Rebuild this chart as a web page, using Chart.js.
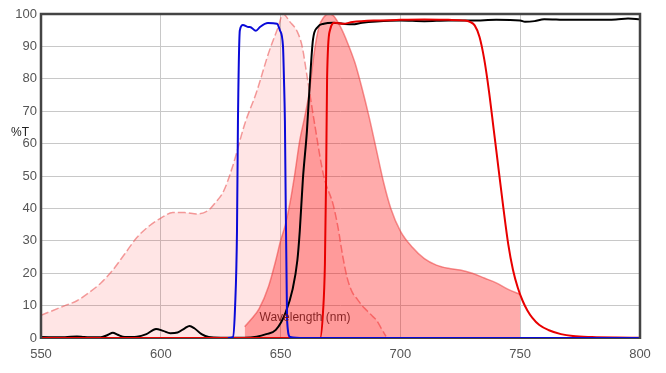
<!DOCTYPE html>
<html><head><meta charset="utf-8">
<style>html,body{margin:0;padding:0;background:#fff}#wrap{width:666px;height:373px}</style>
<script src="https://cdn.jsdelivr.net/npm/chart.js@4/dist/chart.umd.min.js"></script>
</head><body><div id="wrap"><canvas id="c" width="666" height="373"></canvas></div>
<script>
const xTicks = [550, 600, 650, 700, 750, 800];
const yTicks = [0,10,20,30,40,50,60,70,80,90,100];

const excitationWl = [550,555,560,565,570,575,580,585,590,595,600,605,610,615,620,623,626,630,635,640,645,649,651,654,657,659,661,664,668,672,674,676,678,680,682,684,686,688,690,692,694];
const excitationT  = [7,8.5,10,11.5,14,17,21,26,31,34.5,37,38.7,38.7,38.3,39.5,42,45,53,66,76,88,96,100,97.5,94.5,90,81,67,50,41,34,25,18,14,12,10,8.5,7,5.5,3,0.5];

const emissionWl = [635,638,641,645,648,650,652,654,656,658,660,662,664,666,668,670,672,675,678,681,684,687,690,693,696,700,705,710,715,720,725,730,735,740,745,750];
const emissionT  = [3.5,6,9,16,24,30,35,42,51,61,68,76,88,96,99,100,99.5,96,91,85,77,68,58,48,40,33,28,24.5,22.5,21.5,21,20,18.5,17,15,13.5];

const exFilterWl = [628,630.1,631,631.8,632.2,633,634.3,636.4,637.2,639.7,641.4,644.7,648.5,649.7,651,651.4,651.8,652.7,654,660,700,750,800];
const exFilterT  = [0,0.3,9.6,33,67,95,96.6,96,96,94.8,96,97.2,97,95,90,80,67,5.5,0.3,0,0,0,0];

const dichroicWl = [550,560,565,568,575,578,580,582,585,590,594,598,601,604,607,610,612,614,617,620,625,635,640,644,648,652,655,657,658,659.3,661,662.3,663.5,665.5,668,672,676,680,684,690,700,710,720,730,740,750,752,756,760,770,780,790,795,800];
const dichroicT  = [0.3,0.2,0.5,0.3,0.2,1.0,1.6,1.0,0.3,0.4,1.2,2.8,2.2,1.5,1.7,3.0,3.7,3.0,1.2,0.3,0.1,0.1,0.4,1.2,2.5,7.7,15,24,33,49,64,80,92,96,97,97.3,97,96.8,97.3,97.7,98,97.8,98,98,98.2,98,97.6,97.8,98.4,98.2,98.2,98.3,98.6,98.4];

const emFilterWl = [550,600,650,666.5,667.7,668.5,669,669.4,670.6,672.7,676,680,690,700,710,720,727,729,731,733,735,737,739,741,743,745,747,749,751,753,755,758,762,767,772,780,790,800];
const emFilterT  = [0,0,0,0,8,23,50,80,95,97.3,97,97.5,98,98.2,98.3,98.2,98,97.6,96.5,93,86,76,64,52,40,29,21,15.5,11.5,8.5,6.3,4,2.4,1.2,0.6,0.3,0.15,0.1];

const pts = (xs, ys) => xs.map((x, i) => ({x, y: ys[i]}));

const framePlugin = {
  id: 'frame',
  beforeDatasetsDraw(chart) {
    const {ctx, chartArea: a} = chart;
    ctx.save();
    ctx.strokeStyle = '#444'; ctx.lineWidth = 2;
    ctx.beginPath(); ctx.moveTo(a.left, a.bottom); ctx.lineTo(a.right, a.bottom); ctx.stroke();
    ctx.restore();
  },
  afterDatasetsDraw(chart) {
    const {ctx, chartArea: a} = chart;
    ctx.save();
    ctx.strokeStyle = '#444'; ctx.lineWidth = 2.5;
    ctx.beginPath();
    ctx.moveTo(a.left, a.bottom + 1); ctx.lineTo(a.left, a.top); ctx.lineTo(a.right, a.top); ctx.lineTo(a.right, a.bottom + 1);
    ctx.stroke();
    ctx.font = '12px "Liberation Sans", Arial, sans-serif';
    ctx.fillStyle = '#222'; ctx.textAlign = 'left'; ctx.textBaseline = 'middle';
    ctx.fillText('%T', 11, 133);
    ctx.fillStyle = 'rgba(120,20,20,0.9)'; ctx.textAlign = 'center';
    ctx.fillText('Wavelength (nm)', 305, 318);
    ctx.restore();
  }
};

new Chart(document.getElementById('c'), {
  type: 'line',
  data: {
    datasets: [
      { label: 'Excitation filter', data: pts(exFilterWl, exFilterT), borderColor: '#0a0ad8', borderWidth: 2, fill: false, order: 1 },
      { label: 'Emission filter', data: pts(emFilterWl, emFilterT), borderColor: '#e80000', borderWidth: 2, fill: false, order: 2 },
      { label: 'Dichroic', data: pts(dichroicWl, dichroicT), borderColor: '#000', borderWidth: 2, fill: false, order: 3 },
      { label: 'Emission', data: pts(emissionWl, emissionT), borderColor: 'rgba(235,60,60,0.55)', backgroundColor: 'rgba(255,0,0,0.33)', borderWidth: 1.5, fill: 'origin', order: 4 },
      { label: 'Excitation', data: pts(excitationWl, excitationT), borderColor: 'rgba(235,90,90,0.6)', backgroundColor: 'rgba(255,0,0,0.1)', borderWidth: 1.5, borderDash: [8, 3], fill: 'origin', order: 5 }
    ]
  },
  options: {
    responsive: false, animation: false, devicePixelRatio: 1,
    layout: { padding: { left: 0, right: 26, top: 14, bottom: 0 } },
    elements: { point: { radius: 0 }, line: { cubicInterpolationMode: 'monotone' } },
    plugins: { legend: { display: false }, tooltip: { enabled: false } },
    scales: {
      x: {
        type: 'linear', min: xTicks[0], max: xTicks[xTicks.length - 1],
        afterFit(s) { s.height = 35; },
        afterBuildTicks(s) { s.ticks = xTicks.map(v => ({value: v})); },
        grid: { color: '#c8c8c8', drawTicks: false },
        border: { display: false },
        ticks: { padding: 9, color: '#555', font: { size: 13, family: '"Liberation Sans", Arial, sans-serif' } }
      },
      y: {
        min: yTicks[0], max: yTicks[yTicks.length - 1],
        afterFit(s) { s.width = 41; },
        afterBuildTicks(s) { s.ticks = yTicks.map(v => ({value: v})); },
        grid: { color: '#c8c8c8', drawTicks: false },
        border: { display: false },
        ticks: { padding: 4, color: '#555', font: { size: 13, family: '"Liberation Sans", Arial, sans-serif' } }
      }
    }
  },
  plugins: [framePlugin]
});
</script></body></html>
